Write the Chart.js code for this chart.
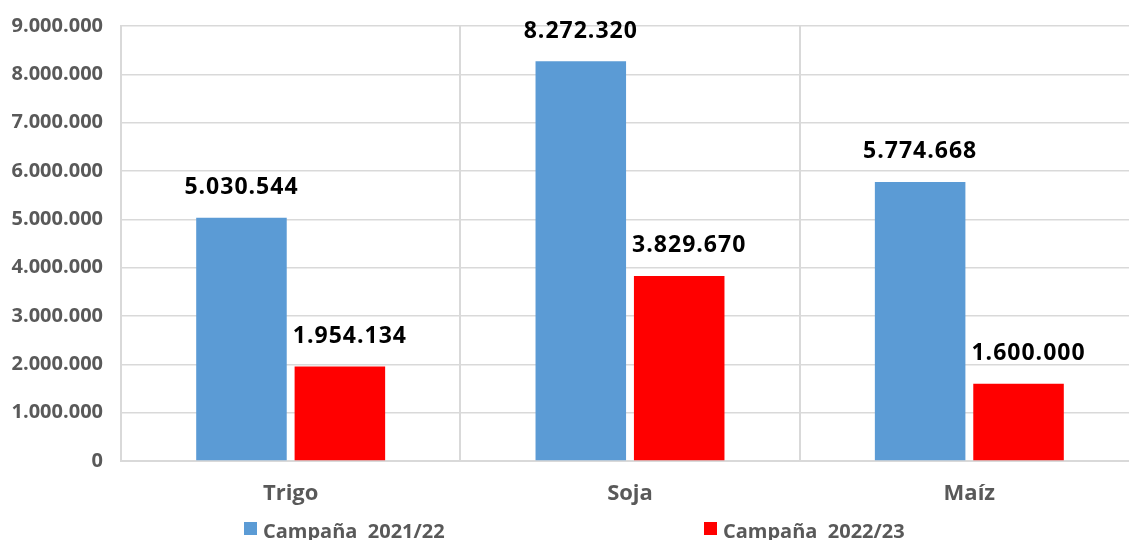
<!DOCTYPE html>
<html>
<head>
<meta charset="utf-8">
<script src="https://cdn.jsdelivr.net/npm/chart.js@4.4.1/dist/chart.umd.min.js"></script>
<style>
  body { margin: 0; overflow: hidden; background: #fff; }
  #wrap { width: 1140px; height: 540px; position: relative; }
</style>
</head>
<body>
<div id="wrap"><canvas id="cultivos"></canvas></div>
<script>
var cats = ["Trigo", "Soja", "Maíz"];
var seriesNames = ["Campaña 2021/22", "Campaña 2022/23"];
var campana2122 = [5030544, 8272320, 5774668];
var campana2223 = [1954134, 3829670, 1600000];
var colors = ["#5B9BD5", "#FF0000"];

// 1234567 -> 1.234.567
function fmt(v){
    return String(v).replace(/\B(?=(\d{3})+(?!\d))/g, ".");
}

var valueLabels = {
    id: "valueLabels",
    afterDatasetsDraw: function(chart, args, opts){
        var ctx = chart.ctx;
        ctx.save();
        ctx.font = "bold 23px 'Open Sans'";
        ctx.letterSpacing = "1px";
        ctx.fillStyle = "#000000";
        ctx.textAlign = "center";
        ctx.textBaseline = "middle";
        chart.data.datasets.forEach(function(ds, i){
            chart.getDatasetMeta(i).data.forEach(function(bar, j){
                ctx.fillText(fmt(ds.data[j]), bar.x + opts.shift[i], bar.y - 30);
            });
        });
        ctx.restore();
    }
};

// legend spread out like the original, drawn by hand
var wideLegend = {
    id: "wideLegend",
    afterDraw: function(chart, args, opts){
        var ctx = chart.ctx;
        ctx.save();
        ctx.font = "bold 20px 'Open Sans'";
        ctx.textBaseline = "alphabetic";
        ctx.textAlign = "left";
        chart.data.datasets.forEach(function(ds, i){
            var x = opts.xs[i];
            ctx.fillStyle = ds.backgroundColor;
            ctx.fillRect(x, opts.y, 13, 13);
            ctx.fillStyle = "#595959";
            ctx.fillText(ds.label.replace(" ", "  "), x + 19, opts.y + 16);
        });
        ctx.restore();
    }
};

var datasets = [campana2122, campana2223].map(function(d, i){
    return {
        label: seriesNames[i],
        data: d,
        backgroundColor: colors[i],
        categoryPercentage: 0.58,
        barPercentage: 0.92
    };
});

new Chart(document.getElementById("cultivos"), {
    type: "bar",
    data: { labels: cats, datasets: datasets },
    plugins: [valueLabels, wideLegend],
    options: {
        responsive: true,
        maintainAspectRatio: false,
        animation: false,
        layout: { padding: { top: 26, right: 1, left: 0, bottom: 0 } },
        plugins: {
            legend: { display: false },
            tooltip: { enabled: false },
            valueLabels: { shift: [0, 10] },
            wideLegend: { xs: [244, 704], y: 522 }
        },
        scales: {
            x: {
                grid: { color: "#d9d9d9", lineWidth: 2, drawTicks: false },
                border: { color: "#d9d9d9", width: 2 },
                ticks: {
                    color: "#595959",
                    font: { family: "'Open Sans'", size: 22, weight: "bold" },
                    padding: 20
                },
                afterFit: function(scale){ scale.height = 79; }
            },
            y: {
                min: 0,
                max: 9000000,
                grid: { color: "#d9d9d9", lineWidth: 1.5, drawTicks: false },
                border: { color: "#d9d9d9", width: 2 },
                ticks: {
                    stepSize: 1000000,
                    color: "#595959",
                    font: { family: "'Open Sans'", size: 20, weight: "bold" },
                    padding: 18,
                    callback: function(v){ return fmt(v); }
                },
                afterFit: function(scale){
                    scale.width = 121;
                    scale.paddingTop = 0;
                    scale.paddingBottom = 0;
                }
            }
        }
    }
});
</script>
</body>
</html>
